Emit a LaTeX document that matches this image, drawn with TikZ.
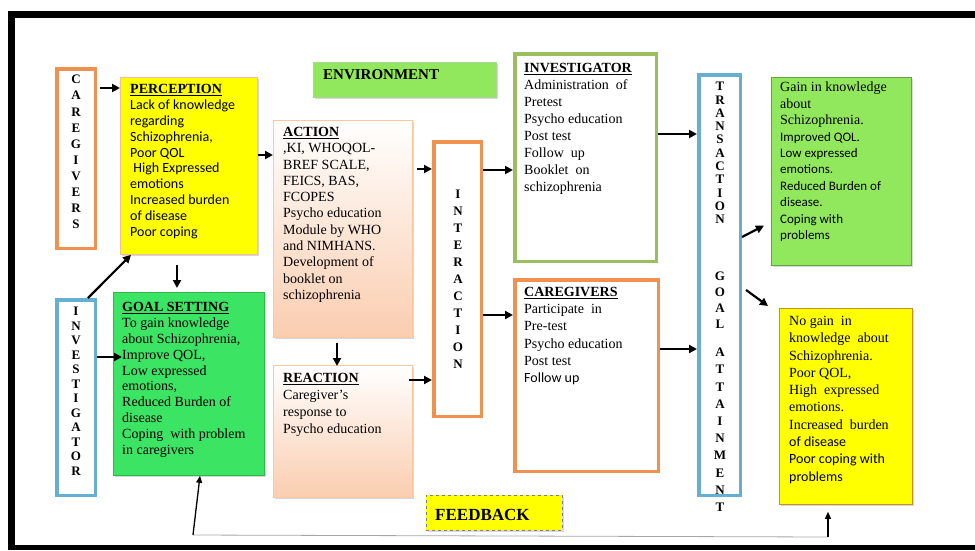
\documentclass[tikz,border=0pt]{standalone}
\usepackage{fontspec}
\setmainfont{Liberation Serif}
\newfontfamily\sansc{Carlito}
\usetikzlibrary{arrows.meta,shadows}
\definecolor{orngB}{RGB}{240,145,80}
\definecolor{blueB}{RGB}{100,175,210}
\definecolor{greenB}{RGB}{155,190,95}
\definecolor{yellowF}{RGB}{255,255,0}
\definecolor{lgreenF}{RGB}{146,232,92}
\definecolor{goalF}{RGB}{60,228,100}
\definecolor{peachF}{RGB}{250,205,175}
\definecolor{peachB}{RGB}{250,200,160}
\definecolor{yellowB}{RGB}{200,140,40}
\begin{document}
\begin{tikzpicture}[x=1pt,y=-1pt,
 obox/.style={draw=orngB, line width=3.5pt, fill=white, inner sep=0pt, anchor=north west},
 bbox/.style={draw=blueB, line width=3.5pt, fill=white, inner sep=0pt, anchor=north west},
 gbox/.style={draw=greenB, line width=3.5pt, fill=white, inner sep=0pt, anchor=north west},
 fillbox/.style={line width=0.8pt, inner sep=0pt, anchor=north west, drop shadow={shadow xshift=2pt,shadow yshift=-2pt,opacity=0.3}},
 peachbox/.style={fillbox, draw=peachB, top color=white, bottom color=peachF},
 txt/.style={anchor=north west, inner sep=0pt, align=left, font=\fontsize{14}{16}\selectfont},
 vtxt/.style={anchor=north, inner sep=0pt, align=center},
 arr/.style={-{Triangle[length=8pt,width=8pt]}, line width=2.2pt},
 farr/.style={-{Triangle[length=7pt,width=6pt]}, line width=1.3pt},
 fbline/.style={draw=gray!70, line width=0.8pt}
]
\useasboundingbox (0,0) rectangle (975,550);
% frame
\fill[black] (8,11) rectangle (975,18);
\fill[black] (8,11) rectangle (15,550);
\fill[black] (8,545) rectangle (975,550);

% boxes
\node[obox, minimum width=38.5pt, minimum height=179.5pt] (cgv) at (55,67) {};
\node[bbox, minimum width=38.5pt, minimum height=195.5pt] (invL) at (55,298) {};
\node[fillbox, draw=orngB!60, fill=yellowF, minimum width=137pt, minimum height=177pt] (perc) at (120,77) {};
\node[fillbox, draw=lgreenF!80!black!60, fill=lgreenF, minimum width=183pt, minimum height=35pt] (env) at (313,62) {};
\node[peachbox, minimum width=139pt, minimum height=217pt] (action) at (273,120) {};
\node[peachbox, minimum width=139pt, minimum height=132pt] (react) at (273,365) {};
\node[fillbox, draw=goalF!80!black, fill=goalF, minimum width=151pt, minimum height=183pt] (goal) at (113,292) {};
\node[obox, minimum width=47.5pt, minimum height=274.5pt] (inter) at (432,140) {};
\node[gbox, minimum width=141.5pt, minimum height=207.5pt] (invR) at (513,52) {};
\node[obox, minimum width=143.5pt, minimum height=191.5pt] (cgR) at (513,278) {};
\node[bbox, minimum width=41.5pt, minimum height=420.5pt] (trans) at (697,73) {};
\node[fillbox, draw=lgreenF!70!black, fill=lgreenF, minimum width=140pt, minimum height=188pt] (gain) at (771,77) {};
\node[fillbox, draw=yellowB, fill=yellowF, minimum width=133pt, minimum height=196pt] (nogain) at (779,308) {};
\node[fillbox, draw=gray, dashed, fill=yellowF, minimum width=136pt, minimum height=35pt] (fb) at (426,495) {};

% vertical letters
\node[vtxt, font=\bfseries\fontsize{13}{16.1}\selectfont] (cgvT) at (76,75) {C\\A\\R\\E\\G\\I\\V\\E\\R\\S};
\node[vtxt, font=\bfseries\fontsize{13}{14.5}\selectfont] (invLT) at (76,307) {I\\N\\V\\E\\S\\T\\I\\G\\A\\T\\O\\R};
\node[vtxt, font=\bfseries\fontsize{13}{17}\selectfont] (interT) at (458,190) {I\\N\\T\\E\\R\\A\\C\\T\\I\\O\\N};
\node[vtxt, font=\bfseries\fontsize{13}{13.3}\selectfont] (transT1) at (720,82) {T\\R\\A\\N\\S\\A\\C\\T\\I\\O\\N};
\node[vtxt, font=\bfseries\fontsize{13}{16}\selectfont] (transT2) at (720,272) {G\\O\\A\\L};
\node[vtxt, font=\bfseries\fontsize{13}{17.2}\selectfont] (transT3) at (720,348) {A\\T\\T\\A\\I\\N\\M\\E\\N\\T};

% labels
\node[anchor=base west, inner sep=0pt, font=\bfseries\fontsize{15}{17}\selectfont] (envT) at (323,79) {ENVIRONMENT};
\node[anchor=base west, inner sep=0pt, font=\bfseries\fontsize{17}{19}\selectfont] (fbT) at (435,520) {FEEDBACK};

\node[txt, font=\sansc\fontsize{14}{15.9}\selectfont] (percT) at (130,84) {{\rmfamily\bfseries\underline{PERCEPTION}}\\
Lack of knowledge\\regarding\\Schizophrenia,\\Poor QOL\\ \ High Expressed\\emotions\\Increased burden\\of disease\\Poor coping};

\node[txt, font=\fontsize{14}{16.3}\selectfont] (actT) at (283,127) {{\bfseries\underline{ACTION}}\\
,KI, WHOQOL-\\BREF SCALE,\\FEICS, BAS,\\FCOPES\\Psycho education\\Module by WHO\\and NIMHANS.\\Development of\\booklet on\\schizophrenia};

\node[txt, font=\fontsize{14}{15.9}\selectfont] (goalT) at (122,302) {{\bfseries\underline{GOAL SETTING}}\\
To gain knowledge\\about Schizophrenia,\\Improve QOL,\\Low expressed\\emotions,\\Reduced Burden of\\disease\\Coping \ with problem\\in caregivers};

\node[txt, font=\fontsize{14}{17}\selectfont] (reactT) at (283,373) {{\bfseries\underline{REACTION}}\\
Caregiver’s\\response to\\Psycho education};

\node[txt, font=\fontsize{14}{17}\selectfont] (invRT) at (524,63) {{\bfseries\underline{INVESTIGATOR}}\\
Administration \ of\\Pretest\\Psycho education\\Post test\\Follow \ up\\Booklet \ on\\schizophrenia};

\node[txt, font=\fontsize{14}{17.2}\selectfont] (cgRT) at (524,287) {{\bfseries\underline{CAREGIVERS}}\\
Participate \ in\\Pre-test\\Psycho education\\Post test\\{\sansc Follow up}};

\node[txt, font=\fontsize{14}{16.4}\selectfont] (gainT) at (780,82) {Gain in knowledge\\about\\Schizophrenia.\\
{\sansc\fontsize{13}{16.4}\selectfont Improved QOL.}\\{\sansc\fontsize{13}{16.4}\selectfont Low expressed}\\{\sansc\fontsize{13}{16.4}\selectfont emotions.}\\{\sansc\fontsize{13}{16.4}\selectfont Reduced Burden of}\\{\sansc\fontsize{13}{16.4}\selectfont disease.}\\{\sansc\fontsize{13}{16.4}\selectfont Coping with}\\{\sansc\fontsize{13}{16.4}\selectfont problems}};

\node[txt, font=\fontsize{14}{17.3}\selectfont] (nogainT) at (789,316) {No gain \ in\\knowledge \ about\\Schizophrenia.\\Poor QOL,\\High \ expressed\\emotions.\\Increased \ burden\\
{\sansc of disease}\\{\sansc Poor coping with}\\{\sansc problems}};

% connectors
\draw[arr, shorten <=3pt] (cgv.east |- 0,88) -- (perc.west |- 0,88);
\draw[arr] (perc.east |- 0,155) -- (action.west |- 0,155);
\draw[arr, shorten <=4pt] (action.east |- 0,169) -- (inter.west |- 0,169);
\draw[arr, shorten <=-4pt] (react.east |- 0,380) -- (inter.west |- 0,380);
\draw[arr] (inter.east |- 0,170) -- (invR.west |- 0,170);
\draw[arr] (inter.east |- 0,315) -- (cgR.west |- 0,315);
\draw[arr] (invR.east |- 0,134) -- (trans.west |- 0,134);
\draw[arr] (cgR.east |- 0,349) -- (trans.west |- 0,349);
\draw[arr, shorten <=10pt, shorten >=4pt] (177,0 |- perc.south) -- (177,0 |- goal.north);
\draw[arr, shorten <=5pt, shorten >=-1pt] (337,0 |- action.south) -- (337,0 |- react.north);
\draw[arr, shorten >=-9pt] (invL.east |- 0,357) -- (goal.west |- 0,357);
\draw[arr] (88,0 |- invL.north) -- (131,0 |- perc.south);
\draw[arr, shorten >=8pt] (trans.east |- 0,237) -- (gain.west |- 0,222);
\draw[arr, shorten <=5pt] (trans.east |- 0,287) -- ([xshift=-11pt,yshift=2pt]nogain.north west);

% feedback
\coordinate (fbL) at (193,535);
\coordinate (fbR) at (828,537);
\draw[fbline] (fbL) -- (fbR);
\draw[farr] (fbL) -- (200,0 |- goal.south);
\draw[farr, shorten >=7pt] (fbR) -- (828,0 |- nogain.south);
\end{tikzpicture}
\end{document}
